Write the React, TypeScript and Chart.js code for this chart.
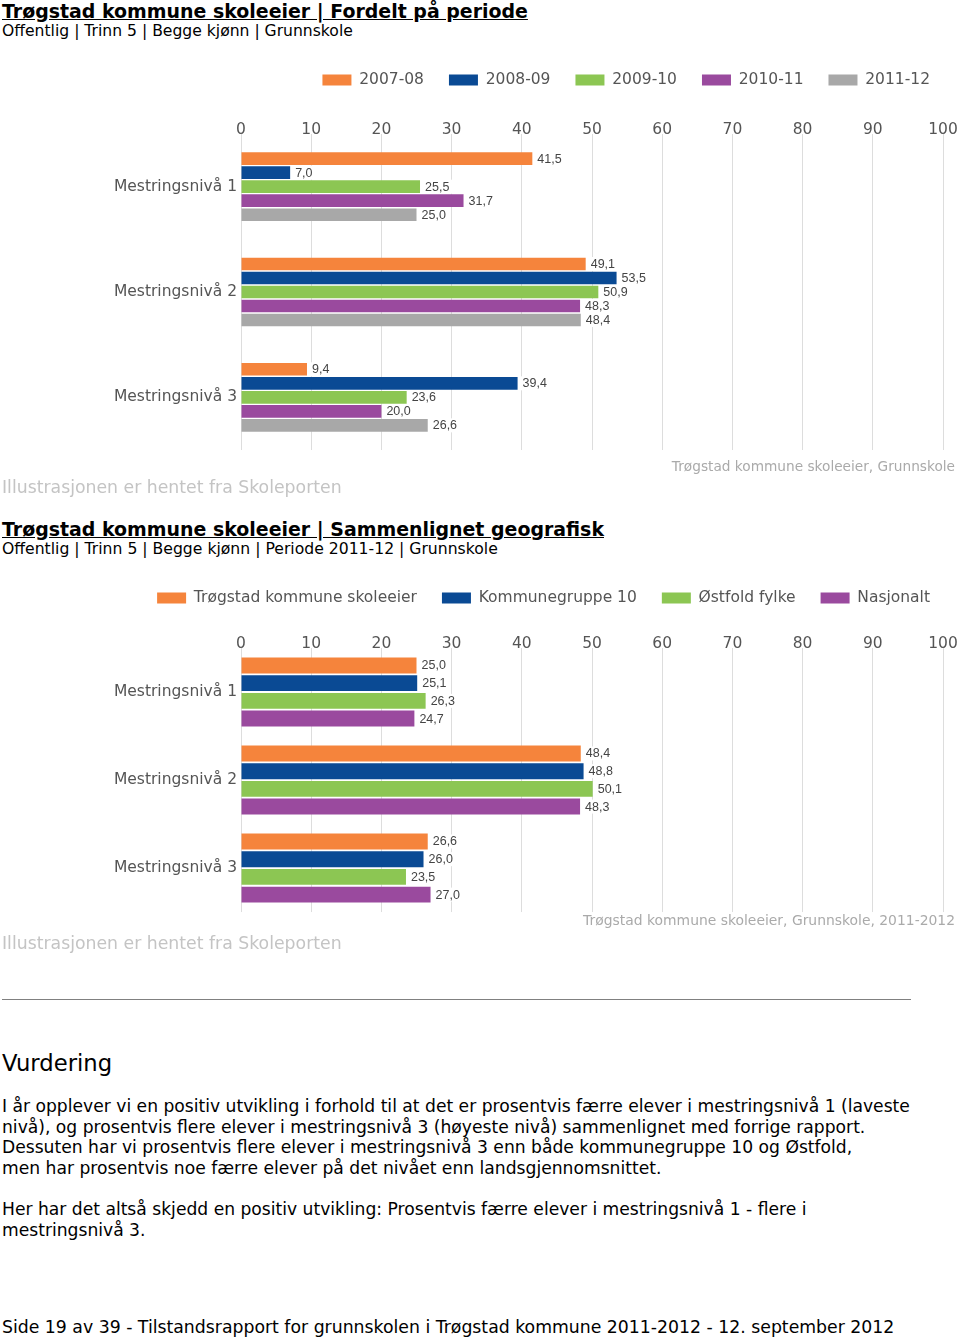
import React, { useEffect, useRef } from "react";
import { Chart, registerables } from "chart.js";

Chart.register(...registerables);

// ---------- data ----------
const levels = ["Mestringsnivå 1", "Mestringsnivå 2", "Mestringsnivå 3"];
const xTickValues = [0, 10, 20, 30, 40, 50, 60, 70, 80, 90, 100];

const periodLabels = ["2007-08", "2008-09", "2009-10", "2010-11", "2011-12"];
const period0708 = [41.5, 49.1, 9.4];
const period0809 = [7.0, 53.5, 39.4];
const period0910 = [25.5, 50.9, 23.6];
const period1011 = [31.7, 48.3, 20.0];
const period1112 = [25.0, 48.4, 26.6];

const geoLabels = ["Trøgstad kommune skoleeier", "Kommunegruppe 10", "Østfold fylke", "Nasjonalt"];
const geoTrogstad = [25.0, 48.4, 26.6];
const geoKommunegruppe = [25.1, 48.8, 26.0];
const geoOstfold = [26.3, 50.1, 23.5];
const geoNasjonalt = [24.7, 48.3, 27.0];

const seriesColors = ["#F5843C", "#0A4A94", "#8CC653", "#9A4A9E", "#A8A8A8"];

const FONT = "'DejaVu Sans', Verdana, sans-serif";

// ---------- value label plugin ----------
const valueLabels = {
  id: "valueLabels",
  afterDatasetsDraw(chart: any) {
    const ctx = chart.ctx;
    ctx.save();
    ctx.font = "12.5px 'Liberation Sans', Arial, sans-serif";
    ctx.textBaseline = "middle";
    ctx.textAlign = "left";
    chart.data.datasets.forEach((ds: any, di: number) => {
      const meta = chart.getDatasetMeta(di);
      meta.data.forEach((el: any, i: number) => {
        const v = ds.data[i] as number;
        const txt = v.toFixed(1).replace(".", ",");
        const w = ctx.measureText(txt).width;
        const x = el.x + 3;
        const y = el.y;
        ctx.fillStyle = "#ffffff";
        ctx.fillRect(x, y - 7, w + 6, 14);
        ctx.fillStyle = "#444444";
        ctx.fillText(txt, x + 2, y + 0.5);
      });
    });
    ctx.restore();
  },
};

type ChartProps = {
  top: number;
  height: number;
  series: number[][];
  names: string[];
  padTop: number;
  axisH: number;
  tickPad: number;
  caption: string;
  capSize: number;
  capPadTop: number;
  capPadBottom: number;
  catPct: number;
  barPct: number;
};

function HBarChart(p: ChartProps) {
  const ref = useRef<HTMLCanvasElement>(null);
  useEffect(() => {
    const chart = new Chart(ref.current as HTMLCanvasElement, {
      type: "bar",
      data: {
        labels: levels,
        datasets: p.series.map((d, i) => ({
          label: p.names[i],
          data: d,
          backgroundColor: seriesColors[i],
          borderWidth: 0,
          categoryPercentage: p.catPct,
          barPercentage: p.barPct,
        })),
      },
      options: {
        indexAxis: "y",
        animation: false,
        responsive: false,
        maintainAspectRatio: false,
        layout: { padding: { top: p.padTop, right: 5, left: 0, bottom: 0 } },
        plugins: {
          legend: {
            position: "top",
            align: "end",
            labels: {
              boxWidth: 29,
              boxHeight: 11,
              padding: 25,
              color: "#555555",
              font: { family: FONT, size: 15.5 },
            },
          },
          subtitle: {
            display: true,
            text: p.caption,
            position: "bottom",
            align: "end",
            color: "#aaaaaa",
            font: { family: FONT, size: p.capSize, weight: "normal" },
            padding: { top: p.capPadTop, bottom: p.capPadBottom },
          },
          tooltip: { enabled: false },
        },
        scales: {
          x: {
            type: "linear",
            position: "top",
            min: 0,
            max: 100,
            grid: { color: "#dddddd", drawTicks: false },
            border: { display: false },
            ticks: { color: "#555555", font: { family: FONT, size: 15.5 }, padding: p.tickPad },
            afterBuildTicks(s: any) {
              s.ticks = xTickValues.map((v) => ({ value: v }));
            },
            afterFit(s: any) {
              s.height = p.axisH;
              s.paddingLeft = 0;
              s.paddingRight = 17;
            },
          },
          y: {
            grid: { display: false, drawTicks: false },
            border: { display: false },
            ticks: { color: "#555555", font: { family: FONT, size: 15.5 }, padding: 4 },
            afterFit(s: any) {
              s.width = 241;
            },
          },
        },
      } as any,
      plugins: [valueLabels],
    });
    return () => chart.destroy();
  }, []);
  return (
    <canvas
      ref={ref}
      width={960}
      height={p.height}
      style={{ position: "absolute", left: 0, top: p.top, width: 960, height: p.height }}
    />
  );
}

const abs: React.CSSProperties = { position: "absolute", left: 2, whiteSpace: "nowrap" };

export default function App() {
  return (
    <div
      style={{
        position: "absolute",
        left: 0,
        top: 0,
        width: 960,
        height: 1340,
        background: "#ffffff",
        fontFamily: FONT,
        color: "#000",
        overflow: "hidden",
      }}
    >
      <div style={{ ...abs, top: 0, fontSize: 18.95, fontWeight: "bold", textDecoration: "underline", lineHeight: "22px" }}>
        Trøgstad kommune skoleeier | Fordelt på periode
      </div>
      <div style={{ ...abs, top: 22, fontSize: 15.6, lineHeight: "18px" }}>
        Offentlig | Trinn 5 | Begge kjønn | Grunnskole
      </div>

      <HBarChart
        top={40}
        height={440}
        series={[period0708, period0809, period0910, period1011, period1112]}
        names={periodLabels}
        padTop={7.25}
        axisH={36.25}
        tickPad={-5.3}
        caption="Trøgstad kommune skoleeier, Grunnskole"
        capSize={13.7}
        capPadTop={8.8}
        capPadBottom={4.76}
        catPct={0.665}
        barPct={0.9}
      />

      <div style={{ ...abs, top: 477, fontSize: 17.3, lineHeight: "20px", color: "#c4c4c4" }}>
        Illustrasjonen er hentet fra Skoleporten
      </div>

      <div style={{ ...abs, top: 518, fontSize: 18.95, fontWeight: "bold", textDecoration: "underline", lineHeight: "22px" }}>
        Trøgstad kommune skoleeier | Sammenlignet geografisk
      </div>
      <div style={{ ...abs, top: 540, fontSize: 15.65, lineHeight: "18px" }}>
        Offentlig | Trinn 5 | Begge kjønn | Periode 2011-12 | Grunnskole
      </div>

      <HBarChart
        top={560}
        height={374}
        series={[geoTrogstad, geoKommunegruppe, geoOstfold, geoNasjonalt]}
        names={geoLabels}
        padTop={5.25}
        axisH={32.25}
        tickPad={-5.3}
        caption="Trøgstad kommune skoleeier, Grunnskole, 2011-2012"
        capSize={13.9}
        capPadTop={0.78}
        capPadBottom={4.5}
        catPct={0.805}
        barPct={0.9}
      />

      <div style={{ ...abs, top: 933, fontSize: 17.3, lineHeight: "20px", color: "#c4c4c4" }}>
        Illustrasjonen er hentet fra Skoleporten
      </div>

      <div style={{ position: "absolute", left: 2, top: 999, width: 909, height: 1, background: "#808080" }} />

      <div style={{ ...abs, top: 1050, fontSize: 22.7, lineHeight: "26px" }}>Vurdering</div>

      <div style={{ ...abs, top: 1096, fontSize: 17.15, lineHeight: "20.6px" }}>
        I år opplever vi en positiv utvikling i forhold til at det er prosentvis færre elever i mestringsnivå 1 (laveste
        <br />
        nivå), og prosentvis flere elever i mestringsnivå 3 (høyeste nivå) sammenlignet med forrige rapport.
        <br />
        Dessuten har vi prosentvis flere elever i mestringsnivå 3 enn både kommunegruppe 10 og Østfold,
        <br />
        men har prosentvis noe færre elever på det nivået enn landsgjennomsnittet.
        <br />
        <br />
        Her har det altså skjedd en positiv utvikling: Prosentvis færre elever i mestringsnivå 1 - flere i
        <br />
        mestringsnivå 3.
      </div>

      <div style={{ ...abs, top: 1317, fontSize: 17.3, lineHeight: "20px" }}>
        Side 19 av 39 - Tilstandsrapport for grunnskolen i Trøgstad kommune 2011-2012 - 12. september 2012
      </div>
    </div>
  );
}
